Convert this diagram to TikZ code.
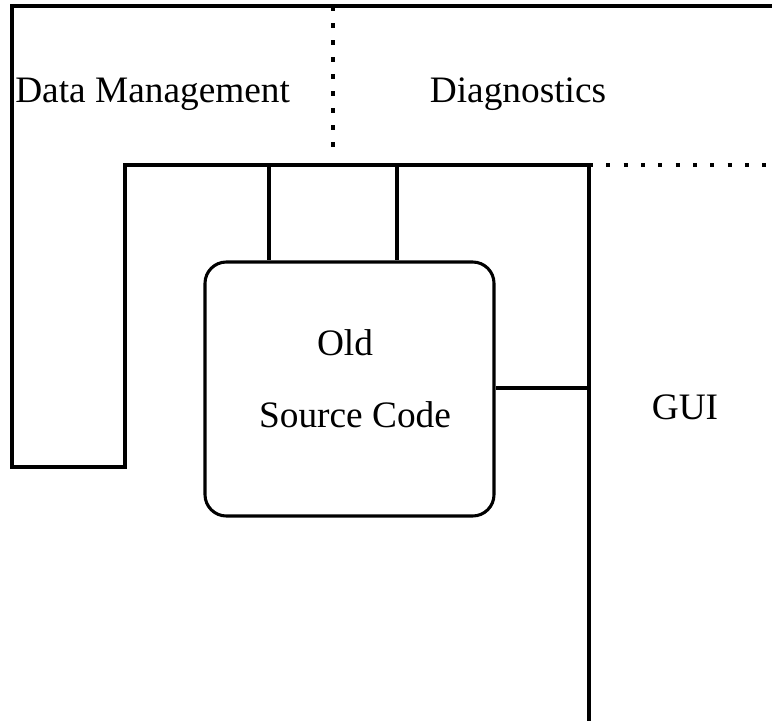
\documentclass[tikz,border=0pt]{standalone}
\usepackage{fontspec}
\setmainfont{Liberation Serif}
\begin{document}
\begin{tikzpicture}[x=0.75pt,y=-0.75pt,
  wall/.style={line width=2.3pt, line join=miter},
  dotv/.style={line width=2.4pt, dash pattern=on 3.75pt off 9pt},
  doth/.style={line width=2.4pt, dash pattern=on 3pt off 10pt},
  lbl/.style={inner sep=0pt, anchor=base, font=\fontsize{28}{33}\selectfont},
  srcbox/.style={draw, line width=2.3pt, rounded corners=16pt, minimum width=216.75pt, minimum height=190.5pt, inner sep=0pt}]
\useasboundingbox (0,0) rectangle (772,721);
% region outlines
\coordinate (tl) at (12,6);
\coordinate (tr) at (772,6);
\coordinate (bl) at (12,467);
\coordinate (bi) at (125,467);
\coordinate (ci) at (125,165);
\coordinate (cg) at (589,165);
\coordinate (gb) at (589,721);
\coordinate (dr) at (772,165);
\coordinate (dt) at (333,6);
\coordinate (db) at (333,155);
\draw[wall] (tr) -- (tl) -- (bl) -- (bi) -- (ci) -- (cg) -- (gb);
\draw[doth] (cg) -- (dr);
\draw[dotv] (dt) -- (db);
% old source code
\node[srcbox] (old) at (349.5,389) {};
\coordinate (c1) at (269,165);
\coordinate (c2) at (397,165);
\coordinate (c3) at (589,388);
\draw[wall] (c1) -- (c1 |- old.north);
\draw[wall] (c2) -- (c2 |- old.north);
\draw[wall] (c3) -- (c3 -| old.east);
% labels
\node[lbl, anchor=base west] (dm) at (15,102) {Data Management};
\node[lbl] (dg) at (518,102) {Diagnostics};
\node[lbl] (gui) at (685,419) {GUI};
\node[lbl] (t1) at (345,355) {Old};
\node[lbl] (t2) at (355,427) {Source Code};
\end{tikzpicture}
\end{document}
